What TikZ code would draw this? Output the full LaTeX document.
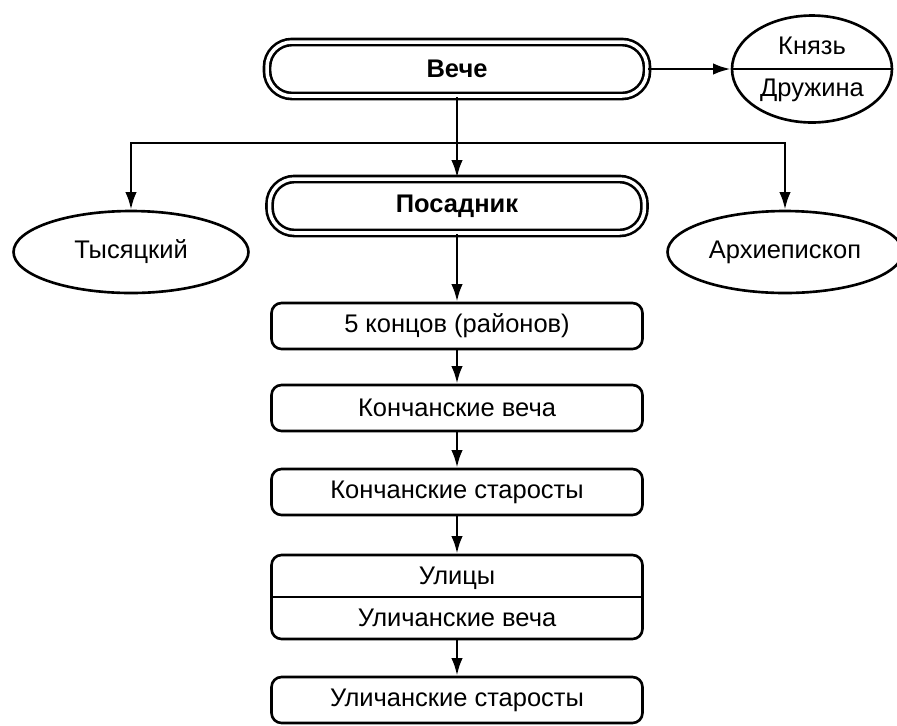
\documentclass[tikz,border=0pt]{standalone}
\usepackage{fontspec}
\setmainfont{Liberation Sans}
\usetikzlibrary{arrows.meta,shapes,calc}
\tikzset{
    block/.style = {draw, rectangle, rounded corners=0.2cm,
        line width=1.5pt, inner sep=0pt,
        minimum height=0.92cm,
        minimum width=7.42cm},
    dblock/.style = {draw, rectangle, rounded corners=0.5cm,
        line width=1.5pt, double, double distance=2pt, inner sep=0pt,
        minimum height=1.08cm, font=\fontsize{14.5}{17}\selectfont\bfseries},
    oval/.style = {draw, ellipse, line width=1.5pt, inner sep=0pt},
    arrow/.style={draw, line width=1.5pt, -{Latex[length=10pt,width=6.5pt]}},
    divider/.style={draw, line width=1.5pt}
}

\begin{document}
\begin{tikzpicture}[x=0.02cm,y=-0.02cm,font=\fontsize{14.5}{17}\selectfont]
        \useasboundingbox (0,0) rectangle (897,725);
        % top level
        \node[dblock, minimum width=7.6cm] (veche) at (457,69) {Вече};
        \node[oval, minimum width=3.2cm, minimum height=2.14cm, align=center] (knyaz) at (812,69) {Князь\\[7pt]Дружина};
        \draw[divider] (knyaz.west) -- (knyaz.east);
        \node[dblock, minimum width=7.5cm] (posadnik) at (457,206) {Посадник};
        \node[oval, minimum width=4.7cm, minimum height=1.64cm] (tys) at (131,252) {Тысяцкий};
        \node[oval, minimum width=4.7cm, minimum height=1.64cm] (arkh) at (785,252) {Архиепископ};
        % city parts
        \node[block] (konc) at (457,326) {5 концов (районов)};
        \node[block] (kveche) at (457,408) {Кончанские веча};
        \node[block] (kstar) at (457,492) {Кончанские старосты};
        \node[block, minimum height=1.68cm, align=center] (ulitsy) at (457,597) {Улицы\\[7pt]Уличанские веча};
        \draw[divider] (ulitsy.west) -- (ulitsy.east);
        \node[block] (ustar) at (457,700) {Уличанские старосты};
        % connectors
        \coordinate (fork) at (457,143);
        \draw[arrow] (veche) -- (knyaz);
        \draw[arrow] (veche) -- (posadnik);
        \draw[arrow] (fork) -| (tys);
        \draw[arrow] (fork) -| (arkh);
        \foreach \a/\b in {posadnik/konc,konc/kveche,kveche/kstar,kstar/ulitsy,ulitsy/ustar}{
            \draw[arrow] (\a) -- (\b);
        }
\end{tikzpicture}
\end{document}
